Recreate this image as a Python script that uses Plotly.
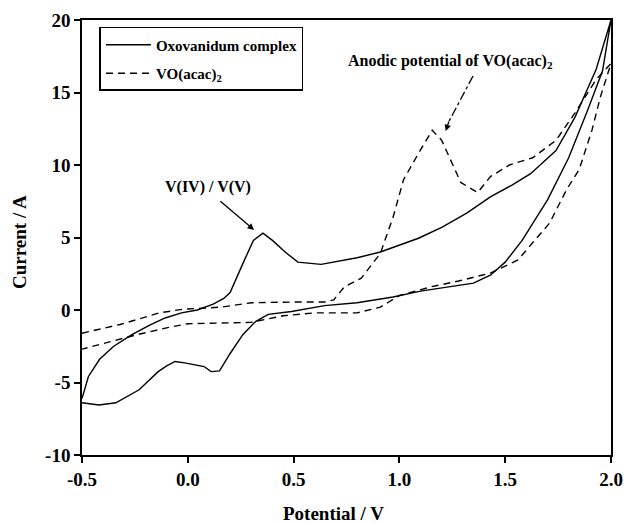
import plotly.graph_objects as go

# Oxovanidum complex (solid) - forward then reverse scan
oxo_v = [-0.5, -0.47, -0.417, -0.35, -0.264, -0.18, -0.107, -0.03, 0.045, 0.12, 0.17, 0.20, 0.26, 0.31, 0.355, 0.40, 0.46, 0.52, 0.63, 0.80, 0.91, 0.97, 1.09, 1.20, 1.32, 1.43, 1.53, 1.62, 1.74, 1.83, 1.93, 2.0,
         1.96, 1.89, 1.80, 1.70, 1.58, 1.50, 1.43, 1.35, 1.20, 1.10, 0.97, 0.80, 0.646, 0.49, 0.38, 0.32, 0.26, 0.20, 0.15, 0.11, 0.077, 0.03, -0.015, -0.06, -0.10, -0.14, -0.23, -0.34, -0.42, -0.5]
oxo_i = [-6.1, -4.6, -3.4, -2.5, -1.7, -1.05, -0.55, -0.2, 0.0, 0.4, 0.8, 1.2, 3.2, 4.8, 5.3, 4.8, 4.0, 3.3, 3.15, 3.6, 4.0, 4.3, 4.95, 5.7, 6.7, 7.8, 8.6, 9.4, 11.0, 13.3, 16.6, 20.0,
         16.5, 13.8, 10.5, 7.6, 4.8, 3.3, 2.4, 1.85, 1.5, 1.3, 0.9, 0.5, 0.3, -0.1, -0.3, -0.8, -1.7, -3.0, -4.2, -4.25, -3.9, -3.75, -3.65, -3.55, -3.85, -4.25, -5.5, -6.4, -6.55, -6.4]

# VO(acac)2 (dashed) - forward then reverse scan
vo_v = [-0.5, -0.32, -0.135, -0.025, 0.16, 0.3, 0.5, 0.65, 0.69, 0.74, 0.82, 0.91, 0.97, 1.02, 1.09, 1.155, 1.20, 1.25, 1.29, 1.37, 1.43, 1.52, 1.63, 1.74, 1.83, 1.93, 2.0,
        1.95, 1.91, 1.85, 1.79, 1.71, 1.63, 1.56, 1.43, 1.28, 1.15, 1.0, 0.95, 0.91, 0.8, 0.6, 0.45, 0.3, 0.16, 0.0, -0.09, -0.24, -0.37, -0.5]
vo_i = [-1.6, -1.0, -0.2, 0.05, 0.2, 0.5, 0.55, 0.55, 0.7, 1.6, 2.2, 3.9, 6.4, 9.0, 10.8, 12.4, 11.7, 10.1, 8.8, 8.1, 9.2, 10.0, 10.5, 11.7, 13.6, 15.9, 17.0,
        14.7, 12.4, 9.7, 8.3, 6.0, 4.6, 3.45, 2.55, 2.0, 1.6, 1.0, 0.55, 0.2, -0.2, -0.2, -0.4, -0.85, -0.9, -0.95, -1.2, -1.7, -2.2, -2.7]

x_ticks = [-0.5, 0.0, 0.5, 1.0, 1.5, 2.0]
y_ticks = [-10, -5, 0, 5, 10, 15, 20]

FONT = "Liberation Serif"

fig = go.Figure()
fig.add_trace(go.Scatter(x=oxo_v, y=oxo_i, mode="lines", name="<b>Oxovanidum complex</b>",
                         legendgroup="a", line=dict(color="black", width=1.4)))
fig.add_trace(go.Scatter(x=vo_v, y=vo_i, mode="lines", name="<b>VO(acac)<sub>2</sub></b>",
                         legendgroup="b", line=dict(color="black", width=1.4, dash="7px,5px")))

axis_common = dict(showgrid=False, zeroline=False, showline=True, linecolor="black", linewidth=1.5,
                   mirror=True, ticks="outside", ticklen=6, tickwidth=1.5, tickcolor="black",
                   tickfont=dict(family=FONT, size=19, color="black"))

fig.update_xaxes(range=[-0.5, 2.0], tickvals=x_ticks,
                 ticktext=[f"<b>{v:.1f}</b>" for v in x_ticks], **axis_common)
fig.update_yaxes(range=[-10, 20], tickvals=y_ticks,
                 ticktext=[f"<b>{v}</b>" for v in y_ticks], **axis_common)

fig.update_layout(
    width=633, height=524,
    margin=dict(l=82, r=10, t=20, b=69),
    plot_bgcolor="white", paper_bgcolor="white",
    font=dict(family=FONT, color="black"),
    showlegend=True,
    legend=dict(x=0.033, y=0.984, xanchor="left", yanchor="top",
                bordercolor="black", borderwidth=1.5, bgcolor="white",
                font=dict(family=FONT, size=15, color="black"),
                tracegroupgap=6, itemwidth=45),
)

# Axis titles placed as annotations to match position
fig.add_annotation(text="<b>Potential / V</b>", xref="paper", yref="paper", x=0.476, y=-0.135,
                   xanchor="center", yanchor="middle", showarrow=False,
                   font=dict(family=FONT, size=19, color="black"))
fig.add_annotation(text="<b>Current / A</b>", xref="paper", yref="paper", x=-0.117, y=0.49,
                   xanchor="center", yanchor="middle", showarrow=False, textangle=-90,
                   font=dict(family=FONT, size=19, color="black"))

# V(IV)/V(V) label and arrow
fig.add_annotation(text="<b>V(IV) / V(V)</b>", x=0.096, y=8.45, xref="x", yref="y",
                   showarrow=False, font=dict(family=FONT, size=16, color="black"))
fig.add_annotation(x=0.313, y=5.52, ax=0.147, ay=7.59, xref="x", yref="y", axref="x", ayref="y",
                   text="", showarrow=True, arrowhead=2, arrowsize=1, arrowwidth=1.3, arrowcolor="black")

# Anodic potential label and dash-dot arrow
fig.add_annotation(text="<b>Anodic potential of VO(acac)<sub>2</sub></b>", x=1.242, y=17.15, xref="x", yref="y",
                   showarrow=False, font=dict(family=FONT, size=16, color="black"))
fig.add_shape(type="line", x0=1.348, y0=16.14, x1=1.232, y1=12.95, xref="x", yref="y",
              line=dict(color="black", width=1.3, dash="dashdot"))
fig.add_annotation(x=1.219, y=12.34, ax=1.236, ay=13.1, xref="x", yref="y", axref="x", ayref="y",
                   text="", showarrow=True, arrowhead=2, arrowsize=1, arrowwidth=1.3, arrowcolor="black")

fig.write_html("out.html")
